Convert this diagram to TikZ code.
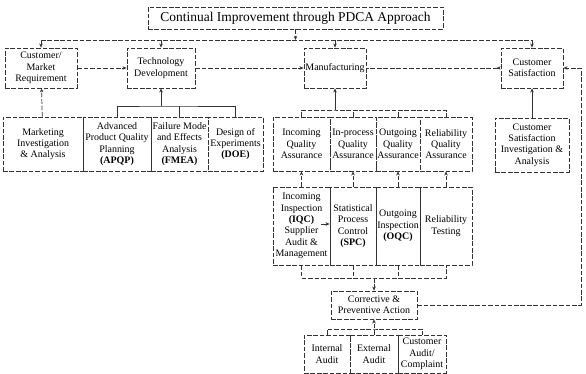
\documentclass[tikz,border=0pt]{standalone}
\usepackage{fontspec}
\setmainfont{Liberation Serif}
\usetikzlibrary{arrows.meta}

\tikzset{
  box/.style 2 args={draw=black!80, dash pattern=on 4pt off 1.5pt, line width=0.6pt,
    inner sep=0pt, align=center, minimum width=#1*0.03cm, minimum height=#2*0.03cm,
    font=\fontsize{8.5}{9.7}\selectfont},
  conn/.style={draw=black!80, dash pattern=on 4pt off 1.5pt, line width=0.6pt},
  solidconn/.style={draw=black!80, line width=0.6pt},
  arr/.style={-{Stealth[length=3.5pt,width=3pt]}},
  backarr/.style={{Stealth[length=3.5pt,width=3pt,reversed]}-},
}

\begin{document}
\begin{tikzpicture}[x=0.03cm,y=-0.03cm]

\useasboundingbox (0,0) rectangle (586,374);

%% - Draw boxes
%% - --------------------------------------

%% - top box

\node[box={295}{22},font=\fontsize{11.5}{13}\selectfont] (pdca) at (295.5,18) {Continual Improvement through PDCA Approach};

%% - first row

\node[box={72}{40}] (cmr) at (41,68) {Customer/\\Market\\Requirement};
\node[box={68}{40}] (td) at (161,68) {Technology\\Development};
\node[box={62}{40}] (mfg) at (335,68) {Manufacturing};
\node[box={62}{40}] (cs) at (532,68) {Customer\\Satisfaction};

%% - second row

\node[box={80}{54}] (mia) at (43,144) {Marketing\\Investigation\\\& Analysis};
\node[box={68}{54}] (apqp) at (117,144) {Advanced\\Product Quality\\Planning\\\textbf{(APQP)}};
\node[box={57}{54}] (fmea) at (179.5,144) {Failure Mode\\and Effects\\Analysis\\\textbf{(FMEA)}};
\node[box={55}{54}] (doe) at (235.5,144) {Design of\\Experiments\\\textbf{(DOE)}};

\node[box={57}{54}] (iqa) at (301.5,144) {Incoming\\Quality\\Assurance};
\node[box={46}{54}] (pqa) at (353,144) {In-process\\Quality\\Assurance};
\node[box={44}{54}] (oqa) at (398,144) {Outgoing\\Quality\\Assurance};
\node[box={52}{54}] (rqa) at (446,144) {Reliability\\Quality\\Assurance};

\node[box={74}{54}] (csia) at (532,145) {Customer\\Satisfaction\\Investigation \&\\Analysis};

%% - third row

\node[box={57}{78}] (iqc) at (301.5,226) {Incoming\\Inspection\\\textbf{(IQC)}\\Supplier\\Audit \&\\Management};
\node[box={46}{78}] (spc) at (353,226) {Statistical\\Process\\Control\\\textbf{(SPC)}};
\node[box={44}{78}] (oqc) at (398,226) {Outgoing\\Inspection\\\textbf{(OQC)}};
\node[box={52}{78}] (rt) at (446,226) {Reliability\\Testing};

%% - corrective action and audits

\node[box={86}{28}] (cpa) at (374,305) {Corrective \&\\Preventive Action};

\node[box={46}{38}] (ia) at (327,354) {Internal\\Audit};
\node[box={48}{38}] (ea) at (374,354) {External\\Audit};
\node[box={48}{38}] (caud) at (422,354) {Customer\\Audit/\\Complaint};

%% - Draw connectors
%% - --------------------------------------

%% - top box to first row

\coordinate (topbus) at (297,40);
\draw[conn,arr] (pdca.south) -- (pdca.south |- topbus);
\draw[conn] (cmr.north |- topbus) -- (cs.north |- topbus);
\foreach \n in {cmr,td,mfg,cs}
  \draw[conn,arr] (\n.north |- topbus) -- (\n.north);

%% - along the first row

\draw[conn,arr] (cmr) -- (td);
\draw[conn,arr] (td) -- (mfg);
\draw[conn,backarr] (cs) -- (mfg);

%% - second row up to first row

\draw[conn,arr] (mia) -- (cmr);

\coordinate (tdbus) at (161,106);
\draw[solidconn] (apqp.north) |- (tdbus) -| (doe.north);
\draw[solidconn] (fmea.north) -- (fmea.north |- tdbus);
\draw[solidconn,arr] (tdbus) -- (td.south);

\coordinate (mfgbus) at (335,110);
\draw[conn] (iqa.north) |- (mfgbus) -| (rqa.north);
\draw[conn] (pqa.north) -- (pqa.north |- mfgbus);
\draw[conn] (oqa.north) -- (oqa.north |- mfgbus);
\draw[solidconn,arr] (mfgbus) -- (mfg.south);

\draw[solidconn,arr] (csia) -- (cs);

%% - third row up to second row

\foreach \a/\b in {iqc/iqa,spc/pqa,oqc/oqa,rt/rqa}
  \draw[conn,arr] (\a) -- (\b);

\coordinate (iqcmid) at (321,224);
\draw[solidconn,arr] (iqcmid) -- (iqcmid -| spc.west);

%% - third row down to corrective action

\coordinate (cpabus) at (374,278);
\draw[conn] (iqc.south) |- (cpabus) -| (rt.south);
\draw[conn] (spc.south) -- (spc.south |- cpabus);
\draw[conn] (oqc.south) -- (oqc.south |- cpabus);
\draw[conn,arr] (cpabus) -- (cpa.north);

%% - audits up to corrective action

\coordinate (auditbus) at (374,329);
\draw[conn] (ia.north) |- (auditbus) -| (caud.north);
\draw[conn,arr] (ea.north) -- (cpa.south);

%% - feedback to customer satisfaction

\coordinate (fbcorner) at (581,305);
\draw[conn,arr] (cpa.east) -- (fbcorner) |- (cs.east);

\end{tikzpicture}
\end{document}
